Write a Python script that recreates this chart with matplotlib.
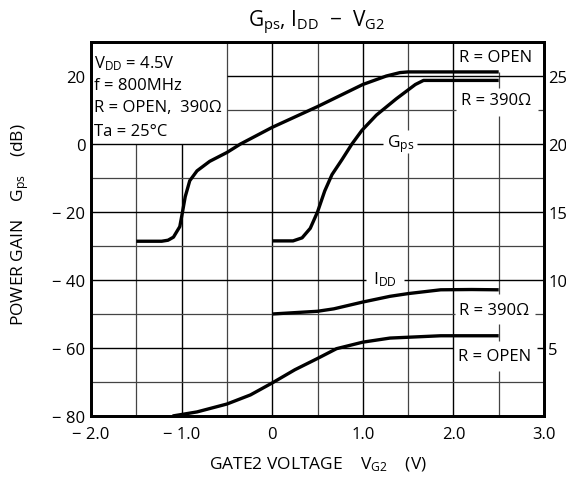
import matplotlib
matplotlib.use("Agg")
import matplotlib.pyplot as plt

plt.rcParams['font.family'] = ['Open Sans', 'DejaVu Sans']
plt.rcParams['mathtext.fontset'] = 'custom'
plt.rcParams['mathtext.rm'] = 'Open Sans'
plt.rcParams['mathtext.it'] = 'Open Sans'
plt.rcParams['mathtext.bf'] = 'Open Sans'

# ---- data ----
# Power gain Gps (dB) vs gate-2 voltage (V)
gps_open_v = [-1.5, -1.22, -1.15, -1.09, -1.02, -0.99, -0.96, -0.91, -0.83, -0.69, -0.5, -0.35,
              0.0, 0.5, 1.0, 1.26, 1.41, 1.5, 2.5]
gps_open_db = [-28.6, -28.6, -28.3, -27.4, -24.3, -20.0, -15.5, -10.8, -7.9, -5.1, -2.5, 0.0,
               4.9, 11.0, 17.5, 20.0, 21.0, 21.2, 21.2]
gps_390_v = [0.0, 0.23, 0.33, 0.42, 0.5, 0.58, 0.66, 0.77, 0.88, 0.99, 1.15, 1.37,
             1.58, 1.67, 2.5]
gps_390_db = [-28.5, -28.5, -27.6, -24.8, -20.0, -13.8, -9.0, -4.6, 0.0, 4.0, 8.5, 13.3,
              17.5, 18.7, 18.7]
# Drain current IDD (mA) vs gate-2 voltage (V)
idd_390_v = [0.0, 0.5, 0.68, 1.0, 1.3, 1.5, 1.86, 2.2, 2.5]
idd_390_ma = [7.5, 7.7, 7.88, 8.38, 8.8, 9.0, 9.28, 9.3, 9.28]
idd_open_v = [-1.1, -0.83, -0.5, -0.24, 0.0, 0.25, 0.5, 0.71, 1.0, 1.3, 1.86, 2.5]
idd_open_ma = [0.0, 0.3, 0.88, 1.55, 2.43, 3.4, 4.23, 4.95, 5.43, 5.73, 5.9, 5.9]

x_ticks = [-2.0, -1.0, 0.0, 1.0, 2.0, 3.0]
x_ticklabels = ['\u2212 2.0', '\u2212 1.0', '0', '1.0', '2.0', '3.0']
y_ticks = [-80, -60, -40, -20, 0, 20]
y_ticklabels = ['\u2212 80', '\u2212 60', '\u2212 40', '\u2212 20', '0', '20']
y2_ticks = [5, 10, 15, 20, 25]

W, H = 566, 481
fig = plt.figure(figsize=(W / 100, H / 100), dpi=100)
ax = fig.add_axes([91 / W, 1 - 417 / H, (544 - 91) / W, (417 - 43) / H])
ax.set_xlim(-2.0, 3.0)
ax.set_ylim(-80, 30)
ax2 = ax.twinx()
ax2.set_ylim(0, 27.5)

FS = 12
ax.set_xticks(x_ticks)
ax.set_xticklabels(x_ticklabels, fontsize=FS)
ax.set_yticks(y_ticks)
ax.set_yticklabels(y_ticklabels, fontsize=FS)
ax2.set_yticks(y2_ticks)
ax2.set_yticklabels([str(t) for t in y2_ticks], fontsize=FS)
ax.tick_params(axis='y', length=0, pad=4)
ax.tick_params(axis='x', length=0, pad=7)
ax2.tick_params(length=0, pad=3)
for a in (ax, ax2):
    for s in a.spines.values():
        s.set_linewidth(2.0)

# ---- grid (segments, with gaps where the labels sit) ----
major = dict(color='black', lw=1.0, zorder=1, solid_capstyle='butt')
minor = dict(color='#444444', lw=0.9, zorder=1, solid_capstyle='butt')

def vseg(x, ranges, style):
    for y0, y1 in ranges:
        ax.plot([x, x], [y0, y1], **style)

def hseg(y, ranges, style):
    for x0, x1 in ranges:
        ax.plot([x0, x1], [y, y], **style)

vseg(-1.5, [(-80, 0)], minor)
vseg(-1.0, [(-80, 0)], major)
vseg(-0.5, [(-80, 30)], minor)
vseg(0.0, [(-80, 30)], major)
vseg(0.5, [(-80, 30)], minor)
vseg(1.0, [(-80, 30)], major)
vseg(1.5, [(-80, -2.5), (4.0, 30)], minor)
vseg(2.0, [(-80, 30)], major)
vseg(2.5, [(-80, -66.7), (-57.8, -53), (-44, 8.3), (16.5, 21.2)], minor)

hseg(20, [(-0.5, 3.0)], major)
hseg(10, [(-0.5, 2.03), (2.93, 3.0)], minor)
hseg(0, [(-2.0, 1.22), (1.6, 3.0)], major)
hseg(-10, [(-2.0, 3.0)], minor)
hseg(-20, [(-2.0, 3.0)], major)
hseg(-30, [(-2.0, 3.0)], minor)
hseg(-40, [(-2.0, 1.03), (1.45, 3.0)], major)
hseg(-50, [(-2.0, 2.02), (2.9, 3.0)], minor)
hseg(-60, [(-2.0, 2.0), (2.92, 3.0)], major)
hseg(-70, [(-2.0, 3.0)], minor)

# ---- curves ----
cs = dict(color='black', lw=2.4, solid_joinstyle='round', solid_capstyle='butt', zorder=3)
ax.plot(gps_open_v, gps_open_db, **cs)
ax.plot(gps_390_v, gps_390_db, **cs)
ax2.plot(idd_390_v, idd_390_ma, **cs)
ax2.plot(idd_open_v, idd_open_ma, **cs)

# ---- annotations ----
TS = 12
tx = -1.97
ax.text(tx, 24.0, r'$\mathrm{V_{DD}}$ = 4.5V', fontsize=TS, va='center', ha='left')
ax.text(tx, 17.4, 'f = 800MHz', fontsize=TS, va='center', ha='left')
ax.text(tx, 10.8, 'R = OPEN,  390\u03a9', fontsize=TS, va='center', ha='left')
ax.text(tx, 3.9, 'Ta = 25\u00b0C', fontsize=TS, va='center', ha='left')

ax.text(2.47, 25.5, 'R = OPEN', fontsize=TS, va='center', ha='center')
ax.text(2.47, 12.8, 'R = 390\u03a9', fontsize=TS, va='center', ha='center')
ax.text(1.42, -0.6, r'$\mathrm{G_{ps}}$', fontsize=12.5, va='baseline', ha='center')
ax.text(1.24, -41.0, r'$\mathrm{I_{DD}}$', fontsize=12.5, va='baseline', ha='center')
ax.text(2.45, -48.7, 'R = 390\u03a9', fontsize=TS, va='center', ha='center')
ax.text(2.45, -62.5, 'R = OPEN', fontsize=TS, va='center', ha='center')

title = r'$\mathrm{G_{ps}}$, $\mathrm{I_{DD}}$  ' + '\u2212' + r'  $\mathrm{V_{G2}}$'
fig.text(317 / W, 1 - 23 / H, title, fontsize=15, ha='center', va='center')
fig.text(20 / W, 1 - 225 / H, r'POWER GAIN    $\mathrm{G_{ps}}$    (dB)', fontsize=12.5,
         rotation=90, ha='center', va='center')
fig.text(318 / W, 1 - 465 / H, r'GATE2 VOLTAGE    $\mathrm{V_{G2}}$    (V)', fontsize=12.5,
         ha='center', va='center')

fig.savefig('out.png', dpi=100)
